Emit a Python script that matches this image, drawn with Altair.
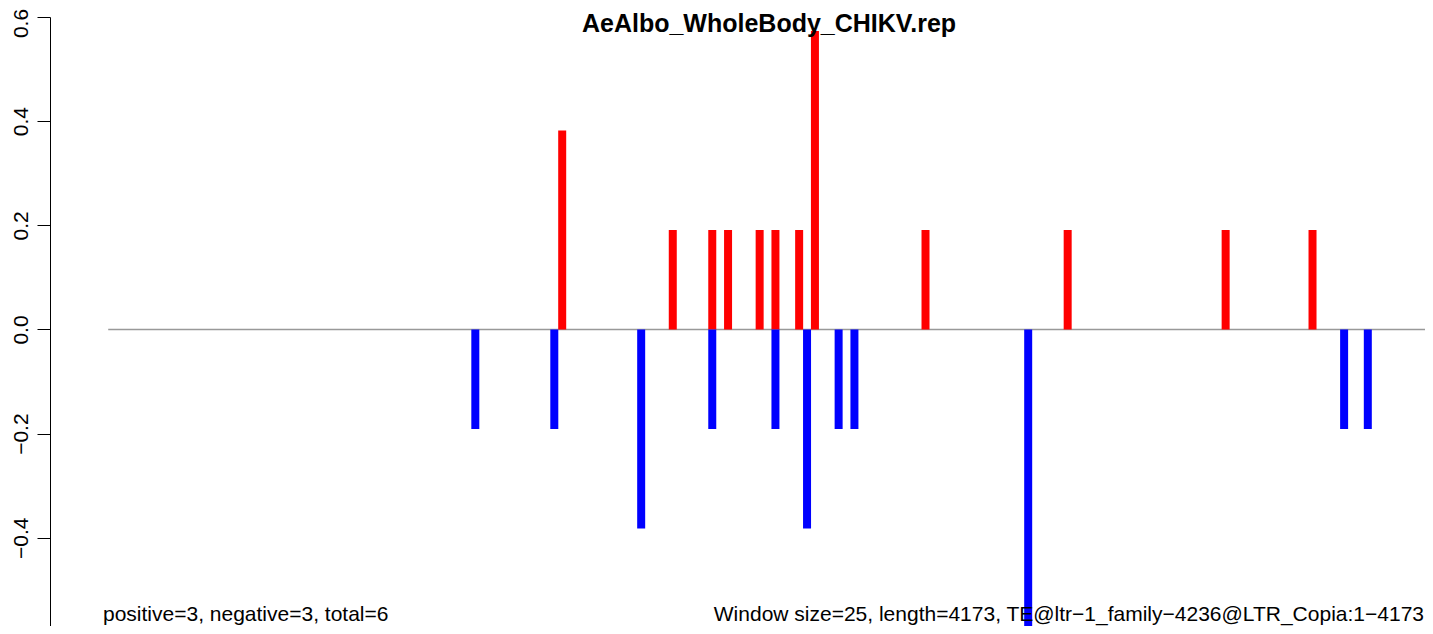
import altair as alt
import pandas as pd

# ---- data ----
WINDOW = 25
LENGTH = 4173
title_text = "AeAlbo_WholeBody_CHIKV.rep"
left_note = "positive=3, negative=3, total=6"
right_note = "Window size=25, length=4173, TE@ltr\u22121_family\u22124236@LTR_Copia:1\u22124173"

pos_windows = [57, 71, 76, 78, 82, 84, 87, 89, 103, 121, 141, 152]
pos_values = [0.382, 0.191, 0.191, 0.191, 0.191, 0.191, 0.191, 0.573, 0.191, 0.191, 0.191, 0.191]
neg_windows = [46, 56, 67, 76, 84, 88, 92, 94, 116, 156, 159]
neg_values = [-0.191, -0.191, -0.382, -0.191, -0.191, -0.382, -0.191, -0.191, -0.573, -0.191, -0.191]
y_ticks = [-0.6, -0.4, -0.2, 0.0, 0.2, 0.4, 0.6]

rows = []
for w, v in zip(pos_windows, pos_values):
    rows.append({"pos": w * WINDOW + 13, "value": v, "zero": 0.0, "strand": "pos"})
for w, v in zip(neg_windows, neg_values):
    rows.append({"pos": w * WINDOW + 13, "value": v, "zero": 0.0, "strand": "neg"})
bars_df = pd.DataFrame(rows)

FONT = "Liberation Sans, Arial, Helvetica, sans-serif"

# plot area: page x 50..1425, page y 17..626 (the R figure is cropped at the window edges)
x_scale = alt.Scale(domain=[-167.43, 4153.2], nice=False, zero=False)
y_scale = alt.Scale(domain=[-0.5694, 0.6], nice=False, zero=False)

zero_line = alt.Chart(pd.DataFrame({"a": [1], "b": [LENGTH], "y": [0.0]})).mark_rule(
    color="#999999", strokeWidth=1.5
).encode(
    x=alt.X("a:Q", scale=x_scale, axis=None),
    x2="b:Q",
    y=alt.Y("y:Q", scale=y_scale),
)

bars = alt.Chart(bars_df).mark_bar(size=8).encode(
    x=alt.X("pos:Q", scale=x_scale, axis=None),
    y=alt.Y(
        "value:Q",
        scale=y_scale,
        title=None,
        axis=alt.Axis(
            values=y_ticks,
            format=".1f",
            labelAngle=270,
            labelAlign="center",
            labelBaseline="alphabetic",
            labelPadding=10,
            labelOffset={
                "condition": [
                    {"test": "datum.value > 0.55", "value": 6},
                    {"test": "datum.value < -0.55", "value": -12},
                ],
                "value": 0,
            },
            labelFontSize=21,
            labelFont=FONT,
            labelColor="#000000",
            labelFlush=False,
            labelOverlap=False,
            tickSize=13,
            tickColor="#000000",
            tickWidth=1,
            domainColor="#000000",
            domainWidth=1,
            grid=False,
        ),
    ),
    y2="zero:Q",
    color=alt.Color(
        "strand:N",
        scale=alt.Scale(domain=["pos", "neg"], range=["#FF0000", "#0000FF"]),
        legend=None,
    ),
)

title_mark = alt.Chart(pd.DataFrame({"t": [title_text]})).mark_text(
    font=FONT, fontSize=25, fontWeight="bold", align="center", baseline="alphabetic", color="#000000"
).encode(x=alt.value(719), y=alt.value(14.5), text="t:N")

left_mark = alt.Chart(pd.DataFrame({"t": [left_note]})).mark_text(
    font=FONT, fontSize=21, align="left", baseline="alphabetic", color="#000000"
).encode(x=alt.value(53), y=alt.value(604), text="t:N")

right_mark = alt.Chart(pd.DataFrame({"t": [right_note]})).mark_text(
    font=FONT, fontSize=21, align="right", baseline="alphabetic", color="#000000"
).encode(x=alt.value(1374), y=alt.value(604), text="t:N")

chart = alt.layer(zero_line, bars, title_mark, left_mark, right_mark).properties(
    width=1375,
    height=609,
    autosize=alt.AutoSizeParams(type="none"),
    padding={"left": 42, "top": 9, "right": 0, "bottom": 0},
    background="#ffffff",
).configure_view(stroke=None)

chart.save("out.html", embed_options={"renderer": "svg", "actions": False})
